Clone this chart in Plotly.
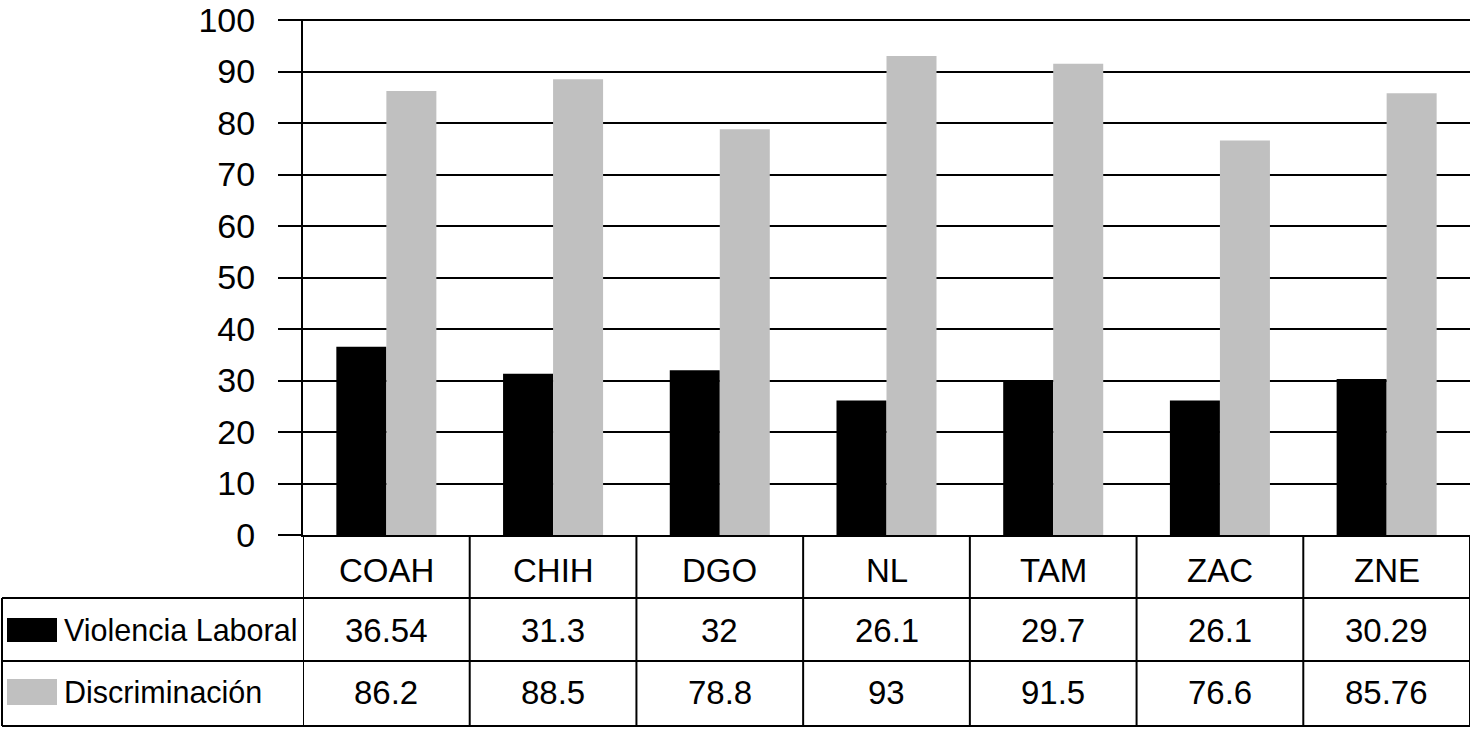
import plotly.graph_objects as go

categories = ["COAH", "CHIH", "DGO", "NL", "TAM", "ZAC", "ZNE"]
violencia = [36.54, 31.3, 32, 26.1, 29.7, 26.1, 30.29]
discriminacion = [86.2, 88.5, 78.8, 93, 91.5, 76.6, 85.76]
violencia_lbl = ["36.54", "31.3", "32", "26.1", "29.7", "26.1", "30.29"]
discriminacion_lbl = ["86.2", "88.5", "78.8", "93", "91.5", "76.6", "85.76"]
series_names = ["Violencia Laboral", "Discriminación"]
y_ticks = list(range(0, 101, 10))

W, H = 1472, 736
FONT = "Liberation Sans Narrow, Arial Narrow, Liberation Sans, Arial, sans-serif"
BLACK = "#000000"
GRAY = "#c0c0c0"

Y_TOP = 100.2  # range top slightly above 100 so the 100 tick is kept


def fx(px):
    return px / W


def fy(py):
    return (H - py) / H


px_per_unit = (535 - 20) / 100.0
top_px = 20 - (Y_TOP - 100) * px_per_unit

fig = go.Figure()
fig.add_trace(go.Bar(x=categories, y=violencia, name=series_names[0],
                     marker=dict(color=BLACK, line=dict(width=0))))
fig.add_trace(go.Bar(x=categories, y=discriminacion, name=series_names[1],
                     marker=dict(color=GRAY, line=dict(width=0))))

shapes = []
for i in range(len(categories) + 1):
    shapes.append(dict(type="line", xref="x", yref="paper", x0=i - 0.5, x1=i - 0.5,
                       y0=fy(535), y1=fy(726), line=dict(color=BLACK, width=2)))
for py in (598, 661, 726):
    shapes.append(dict(type="line", xref="paper", yref="paper", x0=fx(2), x1=fx(1470),
                       y0=fy(py), y1=fy(py), line=dict(color=BLACK, width=2)))
shapes.append(dict(type="line", xref="paper", yref="paper", x0=fx(2), x1=fx(2),
                   y0=fy(598), y1=fy(726), line=dict(color=BLACK, width=2)))
shapes.append(dict(type="rect", xref="paper", yref="paper", x0=fx(7), x1=fx(57),
                   y0=fy(642), y1=fy(618), fillcolor=BLACK, line=dict(width=0)))
shapes.append(dict(type="rect", xref="paper", yref="paper", x0=fx(7), x1=fx(57),
                   y0=fy(705), y1=fy(679), fillcolor=GRAY, line=dict(width=0)))

annotations = []
tsize = 33
lsize = 30.5
for i, c in enumerate(categories):
    annotations.append(dict(x=c, xref="x", y=fy(570), yref="paper", text=c, showarrow=False,
                            font=dict(family=FONT, size=tsize, color=BLACK),
                            xanchor="center", yanchor="middle"))
    annotations.append(dict(x=c, xref="x", y=fy(630), yref="paper", text=violencia_lbl[i],
                            showarrow=False, font=dict(family=FONT, size=tsize, color=BLACK),
                            xanchor="center", yanchor="middle"))
    annotations.append(dict(x=c, xref="x", y=fy(692), yref="paper", text=discriminacion_lbl[i],
                            showarrow=False, font=dict(family=FONT, size=tsize, color=BLACK),
                            xanchor="center", yanchor="middle"))
for name, py in zip(series_names, (630, 692)):
    annotations.append(dict(x=fx(62), xref="paper", y=fy(py), yref="paper", text=name,
                            showarrow=False, font=dict(family=FONT, size=lsize, color=BLACK),
                            xanchor="left", yanchor="middle"))

fig.update_layout(
    width=W, height=H, autosize=False,
    margin=dict(l=0, r=0, t=0, b=0, pad=0, autoexpand=False),
    paper_bgcolor="white", plot_bgcolor="white",
    barmode="group", bargap=0.4, bargroupgap=0,
    showlegend=False,
    font=dict(family=FONT, size=tsize, color=BLACK),
    shapes=shapes, annotations=annotations,
    xaxis=dict(domain=[fx(303), fx(1470)], range=[-0.5, 6.5], showticklabels=False,
               ticks="", showgrid=False, showline=True, linecolor=BLACK, linewidth=2,
               zeroline=False, fixedrange=True, automargin=False),
    yaxis=dict(domain=[fy(535), fy(top_px)], range=[0, Y_TOP], tickvals=y_ticks,
               showgrid=True, gridcolor=BLACK, gridwidth=2,
               ticks="outside", ticklen=23, tickwidth=2, tickcolor=BLACK,
               ticklabelstandoff=16,
               showline=True, linecolor=BLACK, linewidth=2, zeroline=False,
               tickfont=dict(family=FONT, size=34, color=BLACK), fixedrange=True,
               automargin=False),
)

fig.write_html("out.html",
               config={"displayModeBar": False, "responsive": False},
               post_script="document.body.style.margin='0';"
                           "document.documentElement.style.overflow='hidden';"
                           "document.body.style.overflow='hidden';")
